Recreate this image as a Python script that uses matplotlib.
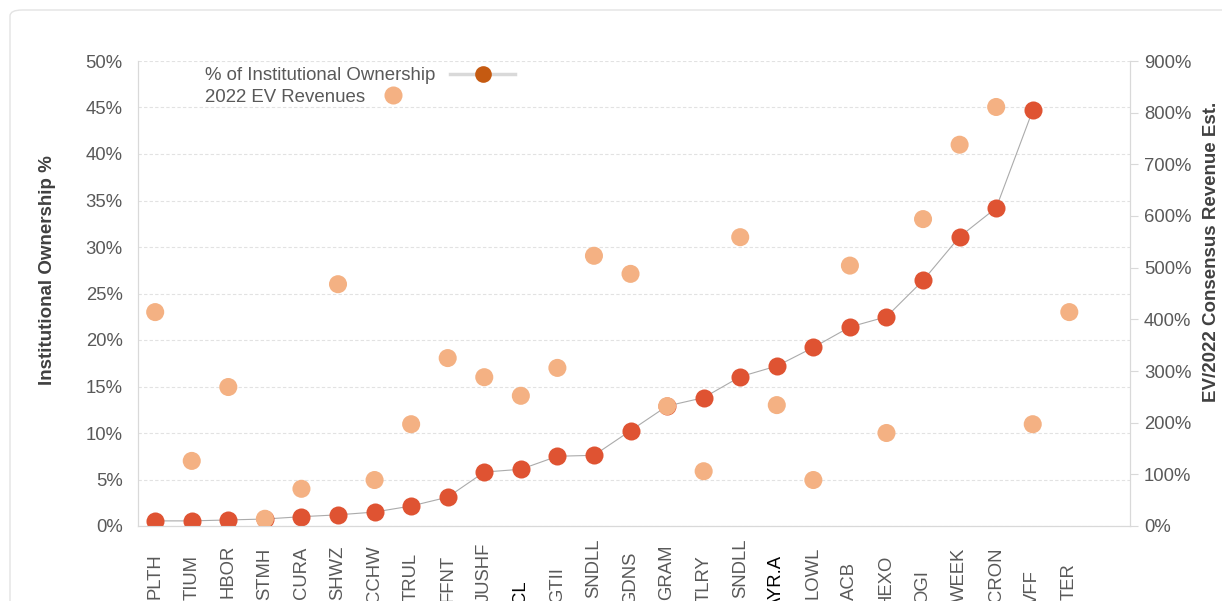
import matplotlib
matplotlib.use("Agg")
import matplotlib.pyplot as plt
import numpy as np
from matplotlib.lines import Line2D
from matplotlib.patches import FancyBboxPatch
from matplotlib.ticker import FuncFormatter, MultipleLocator

plt.rcParams['font.family'] = ['Liberation Sans', 'DejaVu Sans']

# ---- data ----
tickers = ["PLTH", "TIUM", "HBOR", "STMH", "CURA", "SHWZ", "CCHW", "TRUL", "FFNT",
           "JUSHF", "CL", "GTII", "SNDLL", "GDNS", "GRAM", "TLRY", "SNDLL", "AYR.A",
           "LOWL", "ACB", "HEXO", "OGI", "WEEK", "CRON", "VFF", "TER"]
inst_own_pct = [0.55, 0.55, 0.65, 0.75, 1.0, 1.2, 1.5, 2.15, 3.1,
                5.8, 6.1, 7.5, 7.6, 10.25, 12.9, 13.8, 16.05, 17.2,
                19.2, 21.4, 22.5, 26.4, 31.1, 34.2, 44.7, np.nan]
ev_rev_pct = [414, 126, 269, 14, 72, 468, 89, 197, 325,
              288, 252, 306, 523, 488, 232, 106, 559, 234,
              89, 504, 180, 594, 738, 811, 197, 414]
series_names = ["% of Institutional Ownership", "2022 EV Revenues"]

# ---- styles ----
label_drop_px = [27, 29, 19, 22, 21, 19, 19, 27, 29, 17, 54, 41, 12, 26, 19, 29, 12, 29,
                 21, 36, 29, 44, 22, 21, 44, 37]
label_colors = ['#595959'] * len(tickers)
label_colors[10] = '#000000'
label_colors[17] = '#000000'

RED = '#DF5332'
RED_LEG = '#C55A11'
ORANGE = '#F4B183'
GRID = '#D9D9D9'
TXT = '#595959'

fig = plt.figure(figsize=(12.22, 6.01), dpi=100)
fig.patches.append(FancyBboxPatch((10 / 1222, -0.05), 1.1, (601 - 10) / 601 + 0.05,
                                  boxstyle="round,pad=0,rounding_size=0.01",
                                  transform=fig.transFigure, facecolor='none',
                                  edgecolor='#E3E3E3', linewidth=1.0, zorder=0))

ax = fig.add_axes([138 / 1222, 75 / 601, (1130 - 138) / 1222, (526 - 61) / 601])
ax2 = ax.twinx()

x = np.arange(len(tickers))
ax.plot(x, inst_own_pct, color='#ABABAB', lw=0.8, marker='o', markersize=13,
        markerfacecolor=RED, markeredgecolor=RED, markeredgewidth=0, zorder=3)
ax2.scatter(x, ev_rev_pct, s=13 ** 2, color=ORANGE, edgecolors='none', zorder=3)

ax.set_xlim(-0.47, 26.66)
ax.set_ylim(0, 50)
ax2.set_ylim(0, 900)

ax.yaxis.set_major_locator(MultipleLocator(5))
ax.yaxis.set_major_formatter(FuncFormatter(lambda v, p: f"{v:.0f}%"))
ax2.yaxis.set_major_locator(MultipleLocator(100))
ax2.yaxis.set_major_formatter(FuncFormatter(lambda v, p: f"{v:.0f}%"))

ax.grid(axis='y', color='#E2E2E2', linestyle=(0, (3, 2)), linewidth=0.8, zorder=0)
ax.set_axisbelow(True)

for a in (ax, ax2):
    for s in a.spines.values():
        s.set_color(GRID)
    a.spines['top'].set_visible(False)

ax.tick_params(axis='y', length=0, pad=11, labelsize=13.3, labelcolor=TXT)
ax2.tick_params(axis='y', length=6, width=0.8, color=GRID, pad=4, labelsize=13.3, labelcolor=TXT)
ax.set_xticks(x)
ax.set_xticklabels([])
ax.tick_params(axis='x', length=0)

for i, (lab, d, c) in enumerate(zip(tickers, label_drop_px, label_colors)):
    ax.annotate(lab, xy=(i, 0), xycoords=('data', 'axes fraction'),
                xytext=(0, -d), textcoords='offset pixels', rotation=90,
                ha='center', va='top', fontsize=13.3, color=c, annotation_clip=False)

ax.set_ylabel("Institutional Ownership %", fontsize=13.5, fontweight='bold', color='#404040')
ax.yaxis.set_label_coords(-0.083, 0.55)
ax2.set_ylabel("EV/2022 Consensus Revenue Est.", fontsize=13.5, fontweight='bold', color='#404040')
ax2.yaxis.set_label_coords(1.074, 0.59)

h1 = Line2D([], [], color='#D9D9D9', lw=2.5, marker='o', markersize=12,
            markerfacecolor=RED_LEG, markeredgewidth=0)
h2 = Line2D([], [], color='none', marker='o', markersize=13,
            markerfacecolor=ORANGE, markeredgewidth=0)
leg1 = ax2.legend([h1], [series_names[0]], loc='upper left', bbox_to_anchor=(0.0675, 0.987),
                  frameon=False, markerfirst=False, handlelength=3.5, handletextpad=0.8,
                  fontsize=13.4, borderpad=0, borderaxespad=0)
ax2.add_artist(leg1)
leg2 = ax2.legend([h2], [series_names[1]], loc='upper left', bbox_to_anchor=(0.0675, 0.940),
                  frameon=False, markerfirst=False, handlelength=1.6, handletextpad=0.7,
                  fontsize=13.4, borderpad=0, borderaxespad=0)
for lg in (leg1, leg2):
    for t in lg.get_texts():
        t.set_color(TXT)

fig.savefig("out.png", dpi=100)
